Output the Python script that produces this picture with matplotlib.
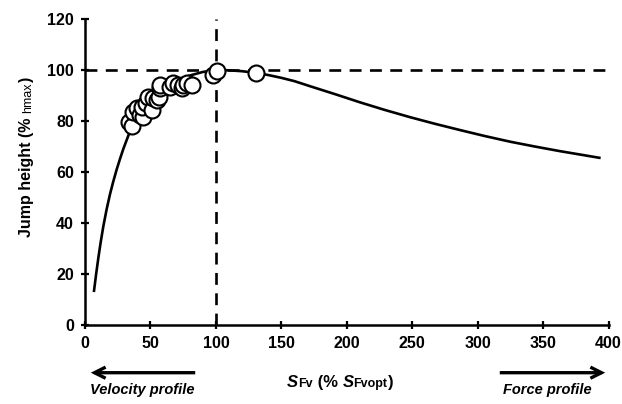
import matplotlib
matplotlib.use('Agg')
import matplotlib.pyplot as plt

plt.rcParams['font.family'] = ['Liberation Sans', 'DejaVu Sans']

# theoretical curve
curve_x = [6.9, 8.5, 10.2, 12.0, 14.0, 16.5, 19.1, 21.5, 24.2, 26.7, 29.3, 33.1, 36.5, 40, 45,
           50, 55, 60, 70, 80, 90, 100, 110, 120, 130, 140, 150, 160, 172, 191, 210, 229, 248,
           267, 286.5, 305, 325, 344, 363, 393]
curve_y = [13.3, 19.8, 26.2, 32.4, 38.6, 45.2, 51.2, 56.0, 60.9, 65.0, 69.0, 74.2, 78.3, 81.8,
           85.6, 88.6, 90.9, 92.8, 95.7, 97.8, 99.2, 100, 99.85, 99.5, 98.9, 98.0, 96.9, 95.6,
           93.6, 90.5, 87.3, 84.3, 81.5, 78.9, 76.4, 74.1, 71.8, 69.9, 68.1, 65.5]

# subjects
pts_x = [33.8, 35.7, 36.9, 39.5, 42.0, 44.5, 43.3, 46.6, 48.4, 51.0, 52.2, 54.8, 56.8, 57.3,
         57.3, 64.9, 67.5, 71.3, 73.9, 75.1, 77.7, 81.5, 98.0, 101.0, 131.0]
pts_y = [79.7, 78.0, 83.6, 84.9, 82.3, 81.6, 85.5, 86.9, 89.5, 84.3, 88.8, 88.2, 89.5, 92.8,
         94.1, 93.2, 94.7, 94.1, 92.8, 94.1, 94.7, 94.1, 98.0, 99.7, 98.9]

xticks = [0, 50, 100, 150, 200, 250, 300, 350, 400]
yticks = [0, 20, 40, 60, 80, 100, 120]

fig = plt.figure(figsize=(6.22, 4.04), dpi=100)
ax = fig.add_axes([85 / 622, 1 - 324.6 / 404, (608.5 - 85) / 622, (324.6 - 19) / 404])

ax.axhline(100, color='black', lw=1.9, ls=(0, (4.5, 3.2)), zorder=1)
ax.axvline(100, color='black', lw=1.9, ls=(0, (4.5, 3.2)), zorder=1)
ax.plot(curve_x, curve_y, color='black', lw=1.9, solid_joinstyle='round', zorder=2)
ax.plot(pts_x, pts_y, 'o', ms=11.5, mfc='white', mec='black', mew=1.5, zorder=3)

ax.set_xlim(0, 400)
ax.set_ylim(0, 120)
ax.set_xticks(xticks)
ax.set_yticks(yticks)
for s in ['top', 'right']:
    ax.spines[s].set_visible(False)
for s in ['left', 'bottom']:
    ax.spines[s].set_linewidth(1.8)
ax.tick_params(direction='inout', length=6, width=1.6, labelsize=11.5, pad=5)
for lab in ax.get_xticklabels() + ax.get_yticklabels():
    lab.set_fontweight('bold')

# arrows and profile labels
arrow = dict(arrowstyle='->,head_length=0.8,head_width=0.4', lw=2.4, color='black',
             capstyle='butt', joinstyle='miter')
ax.annotate('', xy=(88 / 622, 1 - 372.7 / 404), xytext=(198 / 622, 1 - 372.7 / 404),
            xycoords='figure fraction', arrowprops=arrow)
ax.annotate('', xy=(608 / 622, 1 - 372.7 / 404), xytext=(497 / 622, 1 - 372.7 / 404),
            xycoords='figure fraction', arrowprops=arrow)
fig.text(142 / 622, 1 - 390 / 404, 'Velocity profile', ha='center', va='center',
         fontsize=10.5, fontweight='bold', fontstyle='italic')
fig.text(547 / 622, 1 - 390 / 404, 'Force profile', ha='center', va='center',
         fontsize=10.5, fontweight='bold', fontstyle='italic')

# mixed-style axis labels, placed piece by piece
fig.canvas.draw()
r = fig.canvas.get_renderer()


def put_row(pieces, x0, y0, rot=0):
    # pieces: (text, size, weight, style)
    items = []
    total = 0
    for txt, sz, wt, st in pieces:
        t = fig.text(0, 0, txt, fontsize=sz, fontweight=wt, fontstyle=st,
                     rotation=rot, va='baseline', ha='left', rotation_mode='anchor',
                     transform=None)
        bb = t.get_window_extent(r)
        w = bb.width if rot == 0 else bb.height
        items.append((t, w))
        total += w
    pos = -total / 2
    for t, w in items:
        if rot == 0:
            t.set_position((x0 + pos, y0))
        else:
            t.set_position((x0, y0 + pos))
        pos += w


H = 404
put_row([('S', 12, 'bold', 'italic'), ('Fv', 9, 'bold', 'normal'),
         (' (% ', 12, 'bold', 'normal'), ('S', 12, 'bold', 'italic'),
         ('Fvopt', 9, 'bold', 'normal'), (')', 12, 'bold', 'normal')],
        340, H - 387)
put_row([('Jump height (% ', 11.5, 'bold', 'normal'), ('hmax', 9, 'normal', 'normal'),
         (')', 11.5, 'bold', 'normal')],
        31, H - 157, rot=90)

fig.savefig('out.png', dpi=100)
